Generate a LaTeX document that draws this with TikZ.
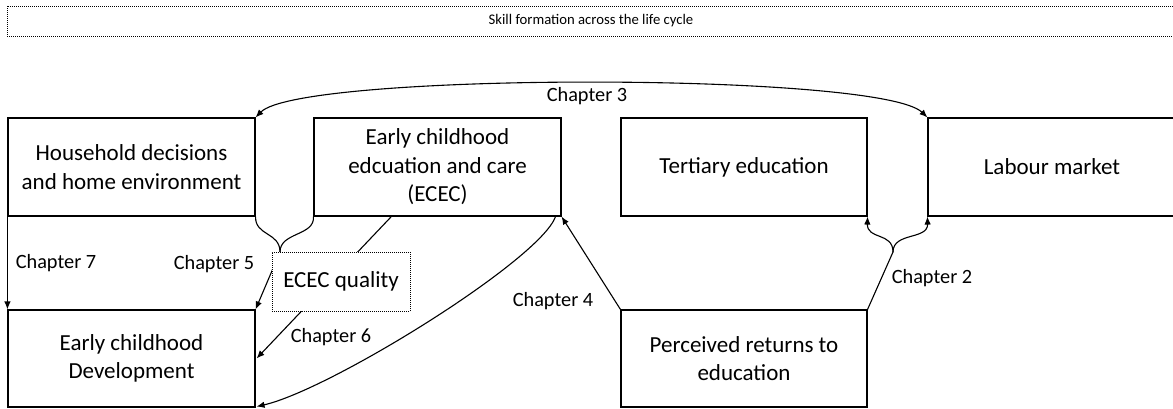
\documentclass[tikz,border=0pt]{standalone}
\usepackage{fontspec}
\setmainfont{Carlito}
\usetikzlibrary{calc,arrows.meta}

\begin{document}
\begin{tikzpicture}[x=1pt, y=-1pt, line width=1.1pt,
    >={Latex[length=8pt,width=6.5pt]},
    box/.style={draw, minimum width=247pt, minimum height=98pt, align=center, font=\fontsize{23}{28.5}\selectfont},
    chap/.style={font=\fontsize{20.3}{24}\selectfont},
    dotbox/.style={draw, dash pattern=on 1pt off 1pt, line width=0.9pt}]
    \useasboundingbox (0,0) rectangle (1173,409);

    \node[dotbox, minimum width=1168pt, minimum height=30pt, font=\fontsize{14.7}{17}\selectfont] (title) at (591,21) {Skill formation across the life cycle};

    \node[box] (hh) at (131.5,167) {Household decisions\\and home environment};
    \node[box] (ecec) at (437.5,167) {Early childhood\\edcuation and care\\(ECEC)};
    \node[box, minimum width=246pt] (tert) at (744,167) {Tertiary education};
    \node[box, minimum width=248pt] (lab) at (1052,167) {Labour market};
    \node[box, minimum height=97pt] (ecd) at (131.5,358.5) {Early childhood\\Development};
    \node[box, minimum width=246pt, minimum height=97pt] (ret) at (744,358.5) {Perceived returns to\\education};

    \coordinate (b5) at (280,252);
    \coordinate (b2) at (893,252);

    % chapter 3
    \draw[<->] (hh.north east) .. controls (300,72) and (880,72) .. (lab.north west);
    \node[chap] (c3) at (587,96) {Chapter 3};

    % chapter 7
    \draw[->] (hh.south west) -- (ecd.north west);
    \node[chap] (c7) at (56,263) {Chapter 7};

    % chapter 5
    \draw (hh.south east) .. controls (255,236) and (280,232) .. (b5);
    \draw (ecec.south west) .. controls (315,236) and (280,232) .. (b5);
    \draw[->] (b5) -- (ecd.north east);
    \node[chap] (c5) at (214,264) {Chapter 5};

    % chapter 6
    \draw[->] ($(ecec.south west)!0.314!(ecec.south east)$) -- ($(ecd.east)+(1,0)$);
    \node[chap] (c6) at (331,337) {Chapter 6};

    % chapter 4
    \draw[->] ($(ecec.south east)+(-6,0)$) .. controls (540,260) and (330,390) .. ($(ecd.south east)+(1,-1)$);
    \draw[->] (ret.north west) -- (ecec.south east);
    \node[chap] (c4) at (553,301) {Chapter 4};

    % chapter 2
    \draw (ret.north east) -- (b2);
    \draw[->] (b2) .. controls (893,232) and (867,240) .. (tert.south east);
    \draw[->] (b2) .. controls (893,232) and (928,240) .. (lab.south west);
    \node[chap] (c2) at (932,278) {Chapter 2};

    \node[dotbox, fill=white, minimum width=138pt, minimum height=59pt, font=\fontsize{23}{28.5}\selectfont] (qual) at (341,281.5) {ECEC quality};
\end{tikzpicture}
\end{document}
